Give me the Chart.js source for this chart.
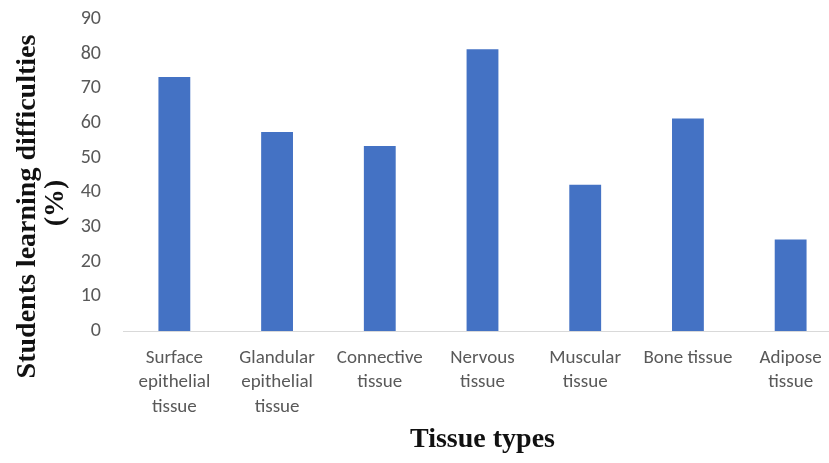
<!DOCTYPE html>
<html lang="en">
<head>
  <meta charset="UTF-8" />
  <title>Students learning difficulties by tissue type</title>
  <script src="https://cdn.jsdelivr.net/npm/chart.js"></script>
  <style>
    html, body { margin: 0; padding: 0; background: #fff; overflow: hidden; }
    #wrap { width: 842px; height: 463px; }
  </style>
</head>
<body>
  <div id="wrap"><canvas id="tissueChart"></canvas></div>

  <script>
    // categories (multi-line labels as in the original figure)
    const tissueLabels = [
      ['Surface', 'epithelial', 'tissue'],
      ['Glandular', 'epithelial', 'tissue'],
      ['Connective', 'tissue'],
      ['Nervous', 'tissue'],
      ['Muscular', 'tissue'],
      ['Bone tissue'],
      ['Adipose', 'tissue']
    ];
    // % of students reporting learning difficulties
    const difficultyPct = [73.3, 57.4, 53.4, 81.3, 42.2, 61.3, 26.4];
    const yTicksMax = 90;
    const yTicksStep = 10;

    const tickFont = { family: "Carlito, 'Liberation Sans Narrow', Lato, 'Open Sans', sans-serif", size: 19 };
    const titleFont = { family: "'Liberation Serif', 'DejaVu Serif', serif", size: 28, weight: 'bold' };

    new Chart(document.getElementById('tissueChart').getContext('2d'), {
      type: 'bar',
      data: {
        labels: tissueLabels,
        datasets: [{
          data: difficultyPct,
          backgroundColor: '#4472c4',
          barPercentage: 0.62,
          categoryPercentage: 0.5
        }]
      },
      options: {
        responsive: true,
        maintainAspectRatio: false,
        animation: false,
        layout: { padding: { top: 19, right: 0, left: 14, bottom: 6 } },
        plugins: { legend: { display: false }, tooltip: { enabled: false } },
        scales: {
          x: {
            grid: { display: false, drawTicks: false },
            border: { display: true, color: '#d9d9d9', width: 1 },
            ticks: { color: '#595959', font: { ...tickFont, lineHeight: 1.28 }, maxRotation: 0, autoSkip: false, padding: 15 },
            title: { display: true, text: 'Tissue types', color: '#111', font: titleFont, padding: { top: 10, bottom: 0 } },
            afterFit: s => { s.height = 126; }
          },
          y: {
            min: 0,
            max: yTicksMax,
            grid: { display: false, drawTicks: false },
            border: { display: false },
            ticks: { stepSize: yTicksStep, color: '#595959', font: { ...tickFont, size: 20 }, padding: 22 },
            title: {
              display: true,
              // trailing spaces nudge the rotated title down like the original
              text: ['Students learning difficulties         ', '(%)        '],
              color: '#111',
              font: { ...titleFont, lineHeight: 1.0 },
              padding: { top: 0, bottom: 0 }
            },
            afterFit: s => { s.width = 109; s.paddingTop = 0; }
          }
        }
      }
    });
  </script>
</body>
</html>
